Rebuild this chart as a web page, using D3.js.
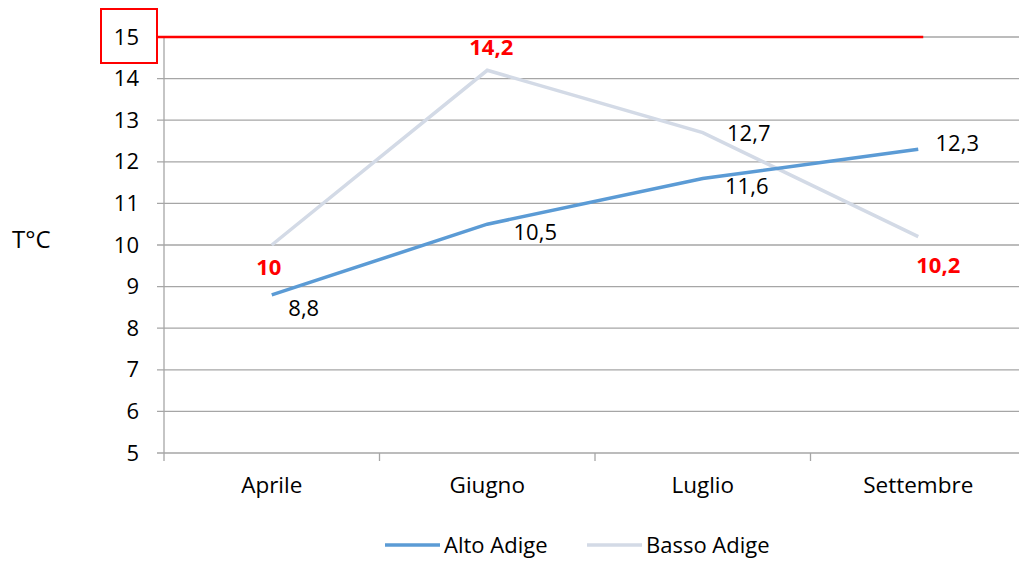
<!doctype html>
<html lang="it">
  <head>
    <meta charset="utf-8">
    <title>T°C Alto Adige / Basso Adige</title>
    <script src="https://d3js.org/d3.v7.min.js"></script>
    <style>
      body { margin: 0; background: #fff; }
      svg { display: block; font-family: 'Open Sans', sans-serif; }
    </style>
  </head>
  <body>
    <div id="root"></div>
  <script>

    //data:
    const months = ['Aprile', 'Giugno', 'Luglio', 'Settembre'];
    const altoAdige = [8.8, 10.5, 11.6, 12.3];
    const bassoAdige = [10, 14.2, 12.7, 10.2];
    const yTicks = [5, 6, 7, 8, 9, 10, 11, 12, 13, 14, 15];
    const limit = 15;

    const width = 1019;
    const height = 561;
    const fmt = v => String(v).replace('.', ',');

    //scales:
    const x = d3.scaleBand()
      .domain(months)
      .range([164, 1026])
      .padding(0);
    const cx = d => x(d) + x.bandwidth() / 2;

    const y = d3.scaleLinear()
      .domain([5, 15])
      .range([453, 37]);

    const svg = d3.select('#root')
      .append('svg')
      .attr('width', width)
      .attr('height', height);

    //gridlines
    svg.append('g')
      .selectAll('line')
      .data(yTicks)
      .join('line')
      .attr('x1', 157)
      .attr('x2', width)
      .attr('y1', d => y(d))
      .attr('y2', d => y(d))
      .attr('stroke', '#a6a6a6')
      .attr('stroke-width', 1.3);

    //y axis
    const yAxis = svg.append('g')
      .attr('transform', 'translate(164,0)')
      .call(d3.axisLeft(y).tickValues(yTicks).tickSize(0).tickPadding(25));
    yAxis.select('.domain').attr('stroke', '#a6a6a6').attr('stroke-width', 1.3)
      .attr('d', `M0,${y(15)}V${y(5)}`);
    yAxis.selectAll('text')
      .attr('font-size', 22)
      .attr('fill', '#000')
      .attr('font-family', 'Open Sans, sans-serif');

    //x axis
    const xAxis = svg.append('g')
      .attr('transform', `translate(0,${y(5)})`)
      .call(d3.axisBottom(x).tickSize(0).tickPadding(24));
    xAxis.select('.domain').remove();
    xAxis.selectAll('text')
      .attr('font-size', 22.5)
      .attr('fill', '#000')
      .attr('font-family', 'Open Sans, sans-serif');
    svg.append('g')
      .selectAll('line')
      .data(months.concat(['end']))
      .join('line')
      .attr('x1', (d, i) => 164 + i * x.bandwidth())
      .attr('x2', (d, i) => 164 + i * x.bandwidth())
      .attr('y1', y(5))
      .attr('y2', y(5) + 8)
      .attr('stroke', '#a6a6a6')
      .attr('stroke-width', 1.3);

    //axis title
    svg.append('text')
      .attr('x', 12)
      .attr('y', 248)
      .attr('font-size', 24)
      .text('T°C');

    //limit line + box round the 15 label
    svg.append('line')
      .attr('x1', 157)
      .attr('x2', cx('Settembre') + 5)
      .attr('y1', y(limit))
      .attr('y2', y(limit))
      .attr('stroke', '#ff0000')
      .attr('stroke-width', 2.5);
    svg.append('rect')
      .attr('x', 101)
      .attr('y', y(limit) - 28)
      .attr('width', 56)
      .attr('height', 54)
      .attr('fill', 'none')
      .attr('stroke', '#ff0000')
      .attr('stroke-width', 2);

    //lines
    const line = d3.line()
      .x((d, i) => cx(months[i]))
      .y(d => y(d));

    svg.append('path')
      .datum(bassoAdige)
      .attr('d', line)
      .attr('fill', 'none')
      .attr('stroke', '#d3dae6')
      .attr('stroke-width', 3.5);

    svg.append('path')
      .datum(altoAdige)
      .attr('d', line)
      .attr('fill', 'none')
      .attr('stroke', '#5b9bd5')
      .attr('stroke-width', 3.5);

    //data labels (offsets: dx, baseline dy)
    const altoOff = [[32, 21], [48, 16], [44, 16], [39, 2]];
    const bassoOff = [[-3, 30], [4, -15], [46, 8], [20, 36]];
    const bassoRed = [true, true, false, true];

    svg.append('g')
      .selectAll('text')
      .data(altoAdige)
      .join('text')
      .attr('x', (d, i) => cx(months[i]) + altoOff[i][0])
      .attr('y', (d, i) => y(d) + altoOff[i][1])
      .attr('text-anchor', 'middle')
      .attr('font-size', 22)
      .text(fmt);

    svg.append('g')
      .selectAll('text')
      .data(bassoAdige)
      .join('text')
      .attr('x', (d, i) => cx(months[i]) + bassoOff[i][0])
      .attr('y', (d, i) => y(d) + bassoOff[i][1])
      .attr('text-anchor', 'middle')
      .attr('font-size', (d, i) => bassoRed[i] ? 22 : 22)
      .attr('font-weight', (d, i) => bassoRed[i] ? 'bold' : 'normal')
      .attr('fill', (d, i) => bassoRed[i] ? '#ff0000' : '#000')
      .text(fmt);

    //legend
    const legend = [['Alto Adige', '#5b9bd5', 385], ['Basso Adige', '#d3dae6', 587]];
    const lg = svg.append('g')
      .selectAll('g')
      .data(legend)
      .join('g')
      .attr('transform', d => `translate(${d[2]},545)`);
    lg.append('line')
      .attr('x1', 0)
      .attr('x2', 55)
      .attr('stroke', d => d[1])
      .attr('stroke-width', 3.5);
    lg.append('text')
      .attr('x', 59)
      .attr('y', 8)
      .attr('font-size', 22)
      .text(d => d[0]);

  </script>
  </body>
</html>
